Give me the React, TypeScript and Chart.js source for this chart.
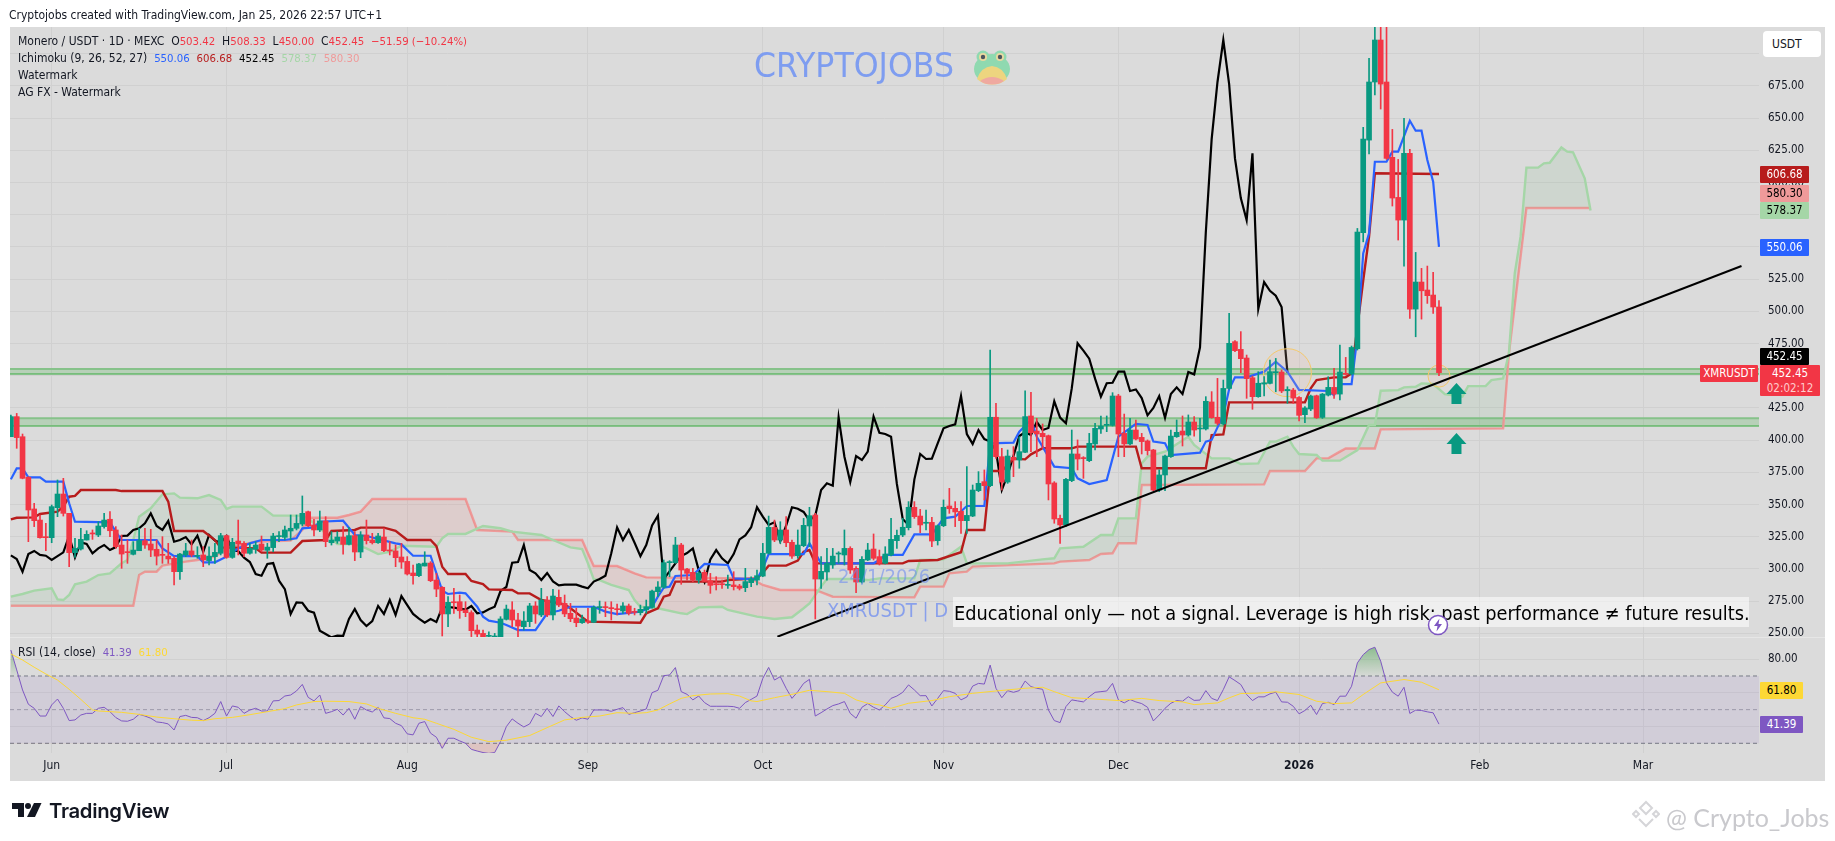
import React, { useEffect, useRef } from 'react';
import { Chart, registerables } from 'chart.js';

Chart.register(...registerables);

const UI_FONT = '"DejaVu Sans Condensed", "DejaVu Sans", sans-serif';
const UP = '#089981';
const DOWN = '#f23645';

// days are counted from 1 Jun 2025, the first candle is 25 May
const firstDay = -7;
const axisMinDay = -7.15;
const axisMaxDay = 292.9;

const monthDays = [0, 30, 61, 92, 122, 153, 183, 214, 245, 273];
const monthLabels = ['Jun', 'Jul', 'Aug', 'Sep', 'Oct', 'Nov', 'Dec', '2026', 'Feb', 'Mar'];
const priceTicks = [250, 275, 300, 325, 350, 375, 400, 425, 450, 475, 500, 525, 550, 575, 600, 625, 650, 675, 700];
const rsiTicks = [40, 60, 80];

const opens = [
  402.7, 418.3, 402.7, 371.2, 346.6, 338, 325, 324.3, 347.6, 358.2,
  343.2, 312.7, 315.5, 322.5, 328, 326.4, 332.9, 338.6, 330.3, 318.6,
  313.2, 311.4, 314.2, 322, 319.4, 315.3, 311.1, 310, 308.3, 297.9,
  310.9, 314, 309.8, 310.9, 306.5, 309.6, 312.2, 325.9, 309, 321.7,
  319.9, 312.2, 315.3, 319.4, 314.5, 316.6, 325.1, 324.6, 329.5, 331.6,
  334.9, 344.5, 334.2, 330.3, 337.3, 320.4, 321.7, 324.8, 319.1, 325.9,
  313.2, 326.4, 322.5, 320.4, 324.8, 314.5, 314, 309.3, 305.9, 296.9,
  294.8, 302.3, 304.6, 291.4, 285.8, 265.1, 274.4, 274.6, 268.2, 266.1,
  252.6, 250, 247.7, 244.9, 244.9, 260.9, 268.2, 260.4, 255.2, 259.1,
  271.3, 264.3, 275.9, 264.3, 278, 273.3, 265.6, 261.9, 258.3, 259.4,
  258.6, 270, 270.5, 269.7, 268.9, 267.4, 271.3, 266.9, 266.1, 268.2,
  270.2, 282.4, 285.8, 304.9, 304.9, 318.6, 300, 297.4, 291.4, 297.4,
  290.9, 288.3, 288.3, 287.3, 287.6, 286.8, 285.5, 289.4, 291.4, 294.5,
  312.2, 332.3, 322.5, 330.3, 320.7, 310.3, 318.1, 333.4, 341.9, 292.2,
  297.7, 303.1, 311.6, 310.9, 316, 300.5, 289.9, 307, 315.5, 309.6,
  304.4, 310.9, 322, 326.4, 332.1, 347.9, 341.1, 335.5, 336.2, 322,
  333.6, 348.9, 347.1, 344.8, 337.5, 341.1, 360.8, 367.8, 364.7, 417.8,
  387.2, 367.5, 386.7, 384.6, 390.6, 418.8, 407.1, 405.3, 403.5, 366.8,
  339.3, 334.2, 368.6, 389.3, 386.2, 384.1, 397.1, 408.7, 411.5, 411.5,
  434.3, 405.3, 397.1, 407.9, 402.2, 399.4, 392.4, 361.3, 373, 387.2,
  402.7, 407.1, 404, 414.1, 408.7, 408.7, 429.7, 417.8, 412.6, 440.2,
  476.5, 470.5, 463.8, 448.5, 433.8, 443.6, 444.1, 452.4, 452.9, 438.4,
  438.9, 433.2, 419.8, 424.2, 434.5, 417.7, 435, 441, 435.8, 451.9,
  451.4, 471, 561.1, 633, 678.1, 710.7, 678.1, 619.6, 588.5, 570.9,
  622.7, 501.8, 522.8, 516.6, 512.7, 503.42,
];
const highs = [
  419.5, 420.8, 404.8, 371.7, 351, 341.9, 335.4, 349.7, 369.1, 370.4,
  343.2, 323.8, 331.6, 329.7, 330.3, 336.7, 343.2, 344.5, 332.9, 326.4,
  322.5, 321.2, 331.6, 331.6, 330.8, 322.5, 325.1, 319.9, 309.6, 312.2,
  319.9, 322.5, 317.3, 317.3, 317.3, 319.9, 327.7, 326.4, 323.8, 338,
  321.2, 319.9, 321.2, 325.6, 319.9, 327.7, 329, 333.4, 341.9, 341.9,
  356.7, 345, 338.6, 345, 340.6, 329, 329, 332.9, 332.3, 329,
  329, 338, 327.7, 327.7, 331.6, 321.2, 318.6, 319.9, 309.6, 303.1,
  304.4, 313.4, 305.7, 296.6, 286.3, 278.5, 285, 279.8, 274.6, 267.6,
  256.5, 252.6, 251.3, 250, 263, 272, 274.6, 265.6, 266.9, 273.3,
  274.6, 285, 278.5, 284.2, 283.7, 279.8, 273.3, 269.5, 264.3, 269.5,
  271.3, 275.1, 274.4, 274.6, 272.8, 273.9, 272.8, 269.5, 272, 275.9,
  283.7, 290.2, 307, 306.5, 324.6, 319.9, 300.5, 300.5, 297.9, 299.2,
  296.6, 294, 291.4, 295.3, 297.9, 288.1, 300.5, 294, 299.2, 319.9,
  341.1, 338, 336.7, 340.6, 322.5, 330.3, 339.3, 347.9, 343.2, 309.6,
  316, 316, 313.4, 330.3, 317.3, 301.8, 309.6, 319.9, 327.2, 314.7,
  317.3, 339.3, 330.3, 339.3, 352.3, 352.3, 346.3, 345.8, 340.1, 334.2,
  353.6, 362.6, 352.3, 352.3, 379.5, 365.2, 375.6, 376.9, 470, 428.6,
  393.7, 392.4, 395, 402.7, 438.4, 437.2, 417, 412.6, 404, 367.8,
  341.9, 370.4, 407.9, 400.2, 387.2, 405.3, 413.1, 418.8, 418.8, 436.9,
  435.6, 420.3, 417, 415.7, 405.3, 400.2, 392.9, 376.9, 388.5, 407.9,
  415.7, 418.8, 419.6, 418.3, 417, 433.8, 437.7, 448, 446.7, 498.5,
  477.3, 484.3, 466.1, 449.8, 453.2, 449.3, 462.2, 463.5, 454.5, 441.5,
  440.2, 433.8, 426, 435, 435, 436.3, 449.3, 455.7, 473.9, 464.3,
  473.1, 564.4, 642.9, 696.4, 735, 735, 740, 641.3, 618, 649.9,
  625.8, 545.8, 533.4, 535.2, 530.3, 508.33,
];
const lows = [
  402.7, 393.7, 370, 321.2, 332.9, 324, 314.2, 320.4, 340.6, 341.1,
  301.8, 309, 314.7, 322.5, 323, 325.1, 331.6, 325.1, 316, 300.5,
  304.4, 310.9, 314.2, 316, 309.6, 303.1, 304.4, 304.4, 287.6, 292,
  309.6, 309.6, 308.3, 301.8, 303.1, 304.4, 310.9, 308.3, 308.3, 310.9,
  309.6, 311.6, 312.2, 313.4, 308.3, 313.4, 321.2, 322.5, 322.5, 330.3,
  333.4, 332.9, 325.6, 329, 317.3, 318.6, 319.9, 311.6, 318.6, 306.5,
  308.8, 319.4, 319.4, 319.9, 313.4, 310.9, 301.8, 300.5, 295.3, 288.3,
  294, 302.3, 290.2, 278.5, 248, 255.2, 265.6, 261.7, 263, 247.5,
  246.2, 244.9, 244.9, 244.9, 244.9, 260.4, 255.2, 247.5, 252.6, 255.2,
  257.8, 263, 263, 260.4, 270.7, 263, 259.1, 255.2, 257.8, 257.8,
  258.3, 265.6, 263, 260.4, 264.3, 265.6, 264.3, 264.3, 264.3, 265.6,
  269.5, 278.5, 285, 294, 304.4, 288.1, 291.4, 290.2, 288.9, 290.2,
  281.1, 283.7, 285, 285, 283.7, 283.7, 282.4, 286.3, 287.6, 294,
  311.6, 321.2, 319.9, 317.3, 308.3, 308.3, 317.3, 317.3, 261.2, 285,
  291.4, 300.5, 304.4, 303.1, 296.6, 281.6, 288.9, 306.5, 307, 303.1,
  303.9, 310.1, 316, 325.1, 330.3, 339.3, 328.2, 330.3, 317.3, 318.6,
  332.9, 343.2, 332.9, 327.7, 327.7, 340.6, 360, 353.6, 363.9, 385.9,
  361.3, 366.5, 371.7, 378.2, 390.3, 391.1, 387.2, 393.7, 353.6, 335.5,
  319.9, 332.9, 367.8, 376.9, 370.4, 383.3, 392.4, 405.3, 406.6, 411,
  387.2, 387.2, 396.3, 400.2, 389.3, 388.5, 360.8, 360, 360.8, 386.7,
  402.2, 395.5, 403.2, 403.2, 398.9, 407.9, 417, 411.8, 411.8, 439.5,
  468.7, 452.4, 432.5, 424, 433.3, 434.3, 443.6, 437.6, 436.9, 428.6,
  428.6, 414.9, 413.6, 422.9, 416.9, 416.9, 434.3, 432.5, 431.2, 450.6,
  450.6, 470, 554, 622.2, 668, 657.1, 618, 581.8, 555.4, 535.2,
  494.6, 480.3, 494, 506.2, 498.4, 450,
];
const closes = [
  418.3, 402, 370.4, 345.8, 337.5, 324.3, 324.3, 348.4, 358.2, 343.2,
  312.7, 316, 323, 326.9, 327.2, 333.4, 338, 329.7, 317.3, 311.6,
  312.7, 314.7, 322, 318.6, 314.7, 310, 310.6, 307.8, 297.9, 311.6,
  314, 310.9, 310.3, 307, 310, 312.9, 325.9, 309, 320.7, 319.4,
  312.2, 316, 318.6, 314.7, 317, 325.6, 325.9, 330.3, 331.6, 335.4,
  343.2, 333.4, 330.3, 337.3, 321.2, 322.5, 324.8, 319.1, 325.9, 313.2,
  326.4, 322, 320.4, 325.6, 314.2, 314, 308.8, 305.4, 296.1, 294.8,
  303.9, 304.6, 290.9, 284.4, 265.1, 274.1, 273.8, 267.6, 266.1, 252.1,
  249.5, 246.9, 248.2, 248, 261.2, 268.9, 260.4, 255.7, 259.6, 271.3,
  265.1, 275.9, 264.3, 279, 272, 265.1, 261.4, 258.3, 261.2, 258.8,
  270.2, 270.5, 270, 269.2, 268.4, 271.3, 265.6, 266.3, 268.7, 270.7,
  282.9, 286, 304.9, 305.4, 318.6, 299.2, 296.6, 291.4, 296.9, 290.4,
  287.3, 287.8, 287.8, 287.8, 286.3, 285, 290.2, 292.2, 294.8, 312.2,
  332.3, 322.5, 330.3, 320.4, 310, 318.6, 333.9, 341.4, 292.2, 298.2,
  304.4, 310, 312.4, 316, 299.2, 289.9, 307.5, 314.7, 308.3, 304.4,
  311.6, 323, 326.1, 332.4, 347.9, 340.6, 334.2, 336.2, 321.7, 333.6,
  347.9, 346.8, 344.3, 337.5, 341.6, 361.3, 366.5, 364.7, 417.8, 387.2,
  367.5, 387.7, 384.6, 391.1, 418.3, 405.8, 404.8, 402.7, 366, 338.8,
  334.2, 369.6, 389.3, 385.4, 385.7, 397.6, 409.2, 411, 412.3, 434.3,
  404.8, 397.1, 407.9, 400.9, 398.9, 391.9, 361.3, 373, 387.7, 403.2,
  406.1, 404, 414.1, 407.9, 409.5, 430.2, 417.5, 413.1, 440.2, 475.2,
  469.5, 463.3, 447.8, 433.8, 444.2, 444.6, 453.2, 453.2, 438.2, 439.4,
  432.7, 419.3, 425, 434.3, 417.4, 435.8, 441, 435.8, 452.9, 451.1,
  472, 561.6, 633.8, 678.1, 710.7, 676.5, 618.8, 588, 570.9, 622.7,
  501.8, 522.8, 516, 512.2, 503.4, 452.45,
];

const tenkanDays = [-7, -6, -5, -4, -2, -1, 2, 3, 4, 10, 11, 12, 18, 19, 21, 25, 26, 28, 30, 32, 34, 36, 40, 42, 43, 45, 46, 50, 52, 54, 59, 60, 62, 65, 67, 68, 70, 71, 73, 74, 75, 77, 78, 80, 83, 85, 87, 89, 93, 95, 97, 101, 103, 104, 105, 106, 107, 110, 112, 116, 117, 121, 122, 123, 129, 130, 132, 141, 142, 143, 146, 148, 151, 153, 155, 157, 160, 161, 165, 166, 168, 169, 172, 175, 176, 178, 181, 183, 186, 188, 189, 191, 192, 197, 198, 199, 201, 202, 203, 205, 208, 210, 212, 214, 219, 220, 221, 223, 224, 225, 226, 227, 229, 230, 231, 233, 234, 235, 236, 237, 238];
const tenkanValues = [369.6, 378.1, 378.1, 371.2, 371.2, 367.8, 367.8, 351, 336.7, 336.2, 329, 322.5, 322.5, 316, 310, 310, 305.2, 305.2, 309.6, 316, 319.9, 322.5, 322.5, 323.8, 331.6, 332.3, 336.7, 337.5, 326.4, 325.6, 319.9, 319.1, 310.3, 310.3, 283.2, 280.6, 281.6, 281.1, 270.7, 263, 259.9, 258.3, 256.5, 252.6, 252.6, 265.6, 267.6, 270.7, 270.7, 266.9, 265, 266.9, 270.7, 278.5, 285.5, 286.3, 294.6, 295.3, 303.9, 303.1, 292.7, 292, 300.5, 311.6, 311.6, 319.9, 304.4, 304.4, 307, 310.9, 310.9, 326.9, 326.9, 339.3, 340.6, 348.9, 348.9, 397.6, 398.1, 406.6, 415.7, 402.7, 379.5, 378.2, 370.4, 366, 369.1, 402.7, 412.6, 411.8, 398.9, 397.6, 388.5, 390.3, 398.9, 400.2, 419.6, 439.5, 448.8, 448.8, 453.2, 461, 453.2, 439, 438.2, 435, 443.6, 443.6, 480.3, 545, 560.6, 616.2, 616.2, 624, 624, 648, 640.3, 640.3, 617.5, 600.7, 550.06];

const kijunDays = [-7, -6, -3, -2, 1, 2, 3, 4, 5, 11, 12, 19, 20, 21, 26, 28, 29, 31, 35, 36, 41, 43, 47, 48, 52, 53, 57, 59, 61, 65, 66, 67, 68, 71, 72, 74, 75, 79, 80, 82, 84, 88, 89, 92, 101, 102, 104, 105, 106, 107, 115, 116, 121, 122, 123, 126, 128, 129, 130, 131, 146, 147, 152, 156, 157, 160, 161, 163, 165, 167, 168, 170, 175, 176, 186, 187, 198, 199, 201, 202, 215, 216, 217, 220, 222, 223, 224, 225, 226, 227, 238];
const kijunValues = [338.5, 339.8, 340.1, 342.7, 344.5, 348.4, 356.1, 356.7, 361.3, 361.3, 360.5, 360.5, 352.3, 329.5, 329.5, 322.5, 316.6, 316.6, 316, 312.7, 312.7, 321.7, 322.5, 329.5, 330.3, 332.1, 332.1, 329.7, 322.5, 322.5, 317.8, 301.8, 296.1, 296.1, 290.7, 288.3, 284.2, 283.7, 281.1, 281.1, 275.9, 272.6, 269.5, 259.1, 258.3, 265.6, 269.5, 278.5, 279.8, 290.2, 290.2, 291.4, 292.7, 297.1, 302.6, 302.6, 306.5, 313.4, 314.7, 304.4, 304.4, 306.2, 307, 313, 330.3, 330.3, 376.1, 376.1, 385.7, 385.1, 389, 393.7, 393.7, 395, 395, 378.2, 378.2, 404, 404.5, 429.4, 429.4, 440.3, 446.7, 448.8, 448.8, 451.9, 488, 524, 558, 607.2, 606.68];

// close shifted back by the Ichimoku displacement, read from -7 to 212
const chikouValues = [
  310.6, 307.8, 297.9, 311.6, 314, 310.9, 310.3, 307, 310, 312.9,
  325.9, 309, 320.7, 319.4, 312.2, 316, 318.6, 314.7, 317, 325.6,
  325.9, 330.3, 331.6, 335.4, 343.2, 333.4, 330.3, 337.3, 321.2, 322.5,
  324.8, 319.1, 325.9, 313.2, 326.4, 322, 320.4, 325.6, 314.2, 314,
  308.8, 305.4, 296.1, 294.8, 303.9, 304.6, 290.9, 284.4, 265.1, 274.1,
  273.8, 267.6, 266.1, 252.1, 249.5, 246.9, 248.2, 248, 261.2, 268.9,
  260.4, 255.7, 259.6, 271.3, 265.1, 275.9, 264.3, 279, 272, 265.1,
  261.4, 258.3, 261.2, 258.8, 270.2, 270.5, 270, 269.2, 268.4, 271.3,
  265.6, 266.3, 268.7, 270.7, 282.9, 286, 304.9, 305.4, 318.6, 299.2,
  296.6, 291.4, 296.9, 290.4, 287.3, 287.8, 287.8, 287.8, 286.3, 285,
  290.2, 292.2, 294.8, 312.2, 332.3, 322.5, 330.3, 320.4, 310, 318.6,
  333.9, 341.4, 292.2, 298.2, 304.4, 310, 312.4, 316, 299.2, 289.9,
  307.5, 314.7, 308.3, 304.4, 311.6, 323, 326.1, 332.4, 347.9, 340.6,
  334.2, 336.2, 321.7, 333.6, 347.9, 346.8, 344.3, 337.5, 341.6, 361.3,
  366.5, 364.7, 417.8, 387.2, 367.5, 387.7, 384.6, 391.1, 418.3, 405.8,
  404.8, 402.7, 366, 338.8, 334.2, 369.6, 389.3, 385.4, 385.7, 397.6,
  409.2, 411, 412.3, 434.3, 404.8, 397.1, 407.9, 400.9, 398.9, 391.9,
  361.3, 373, 387.7, 403.2, 406.1, 404, 414.1, 407.9, 409.5, 430.2,
  417.5, 413.1, 440.2, 475.2, 469.5, 463.3, 447.8, 433.8, 444.2, 444.6,
  453.2, 453.2, 438.2, 439.4, 432.7, 419.3, 425, 434.3, 417.4, 435.8,
  441, 435.8, 452.9, 451.1, 472, 561.6, 633.8, 678.1, 710.7, 676.5,
  618.8, 588, 570.9, 622.7, 501.8, 522.8, 516, 512.2, 503.4, 452.45,
];

const spanADays = [-7, -5, -3, 0, 1, 2, 3, 4, 6, 8, 10, 12, 13, 14, 15, 17, 19, 21, 22, 25, 27, 29, 30, 31, 36, 38, 43, 44, 47, 49, 52, 54, 56, 58, 60, 66, 67, 68, 71, 74, 77, 79, 84, 86, 89, 91, 92, 93, 94, 96, 99, 100, 101, 104, 108, 109, 111, 115, 116, 121, 124, 127, 129, 130, 132, 133, 137, 140, 142, 148, 149, 153, 156, 157, 164, 170, 172, 173, 177, 180, 182, 183, 186, 187, 188, 191, 195, 196, 199, 202, 204, 207, 209, 210, 212, 213, 214, 217, 218, 221, 224, 226, 227, 228, 231, 232, 234, 235, 237, 239, 242, 243, 246, 247, 249, 250, 251, 252, 253, 255, 256, 257, 259, 260, 261, 263, 264];
const spanAValues = [278.5, 280.6, 283.2, 285, 276.4, 275.9, 279.8, 288.1, 290.2, 295.3, 296.6, 304.4, 307, 322.5, 340.6, 347.1, 358, 358.7, 355.4, 354.9, 357.4, 353.6, 346.6, 348.4, 348.4, 341.4, 341.4, 339.3, 327.7, 319.4, 319.4, 316, 311.6, 313.4, 318.1, 317.3, 323.8, 327.2, 327.2, 333.4, 331.6, 329, 326.4, 322.5, 316.8, 315.5, 304.4, 292, 291.4, 287.6, 283.7, 275.9, 270.7, 269.5, 265.6, 265, 270.2, 270.7, 268.2, 263, 261.2, 262.5, 269.5, 273.3, 286.3, 292.2, 292.2, 291.4, 292.7, 292.7, 307, 307.5, 317.3, 304.4, 304.4, 307.5, 308.3, 316, 317.3, 326.4, 326.4, 339.3, 339.3, 382, 387.2, 391.1, 402.7, 396.3, 385.9, 385.9, 381.5, 382, 398.9, 398.9, 402.7, 395, 389.3, 388.5, 384.1, 384.1, 392.3, 411.8, 411.8, 438.4, 438.9, 441, 441.5, 444.1, 443.6, 435.8, 433.8, 442, 442, 446.7, 448, 467.4, 529.5, 558, 611.6, 611.6, 614.9, 615.4, 627.3, 624, 623.5, 603.3, 578.37];

const spanBDays = [-7, 14, 15, 16, 18, 19, 23, 25, 28, 30, 35, 41, 43, 44, 49, 51, 53, 55, 71, 73, 79, 80, 91, 92, 93, 97, 100, 102, 120, 122, 125, 131, 134, 148, 149, 153, 154, 157, 158, 172, 173, 178, 180, 182, 183, 186, 187, 208, 209, 215, 217, 219, 221, 222, 227, 228, 249, 250, 253, 264];
const spanBValues = [271.5, 271.5, 295.3, 297.9, 297.9, 302.6, 305.7, 307, 309.6, 316, 321.2, 322, 330.3, 339.8, 339.8, 341.9, 344.5, 354.3, 354.3, 330.3, 329, 322.5, 322.5, 312.2, 302.3, 302.3, 296.6, 293.5, 292.7, 287.6, 283.7, 283.7, 278.5, 278, 286.3, 286.3, 296.6, 297.9, 301.8, 304.4, 305.7, 307, 311.6, 312.2, 320, 320, 365.2, 365.7, 376.1, 376.1, 385.9, 385.9, 391.1, 393.6, 393.6, 408.4, 409.2, 467.4, 580.3, 580.3];

const rsiValues = [
  85.4, 73.6, 61.7, 53.2, 50.8, 46.2, 46.2, 52.8, 56.3, 50.8,
  43.5, 43.9, 46.8, 47.8, 47.8, 50.8, 51.4, 48.8, 45.3, 43.3,
  43.1, 44.3, 47.2, 46.2, 44.9, 42.7, 42.3, 41.5, 37.9, 45.9,
  46.6, 45.4, 45.2, 43.5, 45.2, 47.8, 54.8, 46.2, 52.2, 51.4,
  47.8, 49.8, 50.8, 49.2, 49.2, 55.2, 55.4, 58.1, 58.7, 61.1,
  65, 57.3, 55.2, 58.7, 47.8, 48.8, 50.2, 46.8, 50.8, 44.3,
  51.8, 49.8, 48.6, 51.4, 45.1, 44.7, 41.9, 40.5, 35.6, 35,
  41.9, 42.9, 36, 33.6, 27, 33, 33, 31.4, 30, 26.4,
  25.4, 24.5, 24, 24.5, 31, 39.9, 44.5, 41.9, 39.7, 41.5,
  47.8, 45.9, 50.8, 45.9, 52.2, 48.8, 45.9, 43.7, 45.1, 44.3,
  49.8, 49.8, 49.8, 49, 50.2, 51.2, 47.2, 48.2, 49.2, 50.4,
  60.1, 61.5, 70.2, 70.6, 75, 60.7, 59.1, 55.8, 58.1, 54.2,
  52, 52, 52, 52, 51.8, 50.8, 54.2, 56.1, 58.1, 68.6,
  75.1, 67.6, 69.6, 62.7, 56.7, 60.7, 65.6, 68, 46.2, 48.2,
  50.4, 52.4, 53.4, 54.8, 47.8, 44.9, 51.4, 53.6, 51.4, 49.8,
  52.8, 56.7, 58.1, 60.3, 64.7, 61.7, 58.3, 58.3, 52.2, 56.7,
  61.3, 60.9, 59.7, 55.8, 57.5, 64, 65.6, 65.2, 76.5, 62.7,
  57.1, 61.3, 60.3, 61.3, 67, 63.7, 62.7, 62.1, 49.8, 43.5,
  42.3, 51.8, 55.8, 55.2, 54.6, 57.7, 60.3, 60.7, 61.1, 65.6,
  55.8, 54, 56, 54.6, 53.6, 51.4, 43.3, 46.8, 50.8, 53.8,
  55.4, 55, 57.7, 55.5, 55.7, 61.3, 56.7, 55.4, 61.9, 69.5,
  67.3, 64.9, 59, 55.4, 57.6, 57.6, 59.4, 60.4, 54.6, 54.4,
  52, 47.5, 49.5, 52.6, 47.1, 53.6, 54.4, 53, 58, 58,
  63.9, 77.8, 82.7, 85.7, 87.1, 78.8, 65.9, 60.4, 58, 63.3,
  47.7, 49.7, 49.5, 48.7, 48.1, 41.39,
];

const rsiMaDays = [-7, -5, -3, -1, 1, 3, 5, 7, 8, 12, 15, 18, 21, 24, 26, 28, 31, 34, 37, 40, 42, 45, 47, 51, 54, 56, 59, 62, 64, 66, 69, 72, 75, 78, 82, 85, 88, 91, 94, 97, 100, 102, 104, 106, 108, 110, 113, 116, 118, 120, 121, 124, 127, 130, 133, 136, 138, 140, 142, 144, 147, 151, 154, 158, 162, 167, 170, 172, 175, 179, 183, 187, 190, 194, 196, 200, 202, 204, 207, 210, 214, 217, 220, 223, 225, 228, 232, 235, 238];
const rsiMaValues = [83.1, 79.5, 75.2, 71.2, 67.6, 62.1, 56.1, 49.8, 49.2, 48.4, 47.2, 45.6, 44.6, 43.7, 43.5, 44.6, 45.4, 47, 48.8, 50.6, 52.8, 54.8, 55, 54.8, 53.4, 50.8, 47.8, 45.2, 44.3, 41.9, 38.3, 33.6, 31, 31.8, 34.6, 39.3, 43.9, 45.4, 46.2, 48.2, 47.8, 48.2, 49.8, 53.4, 56.7, 58.3, 59.3, 59.5, 58.1, 55.2, 54.8, 57.1, 59.1, 61.5, 60.7, 59.7, 55.8, 53.8, 52.8, 50.8, 53.8, 55.4, 57.7, 59.7, 61.1, 62.7, 63.3, 60.7, 57.1, 56.3, 55.4, 56.7, 55.4, 54.6, 53, 54, 57, 59.6, 59.8, 60.6, 59, 55, 53.6, 54, 59, 65.9, 67.9, 66.3, 61.8];

const trendDays = [124.5, 289.9];
const trendPrices = [247.4, 535.2];
const upperZone = [451.4, 455.3];
const lowerZone = [411, 417];
const rsiBands = [30, 50, 70];
const circleDays = [212, 238];
const circlePrices = [452.4, 449.8];
const circleSizes = [24, 11];
const arrowDays = [241, 241];
const arrowPrices = [435.9, 397];

const points = (days: number[], values: number[]) => days.map((d, i) => ({ x: d, y: values[i] }));
const fromFirstDay = (values: number[]) => values.map((v, i) => ({ x: firstDay + i, y: v }));
const acrossPlot = (value: number) => [
  { x: axisMinDay, y: value },
  { x: axisMaxDay, y: value },
];

const line = (data: any[], color: string, width: number, order: number, extra: any = {}) => ({
  type: 'line',
  data,
  borderColor: color,
  borderWidth: width,
  pointRadius: 0,
  tension: 0,
  fill: false,
  order,
  yAxisID: 'y',
  ...extra,
});

const panePlugin = {
  id: 'panes',
  beforeDraw(chart: any) {
    const { ctx } = chart;
    ctx.save();
    ctx.fillStyle = '#dbdbdb';
    ctx.fillRect(10, 27, 1815, 754);
    ctx.fillStyle = '#e6e6e6';
    ctx.fillRect(10, chart.scales.rsi.top, 1815, 1);
    ctx.restore();
  },
  afterDatasetsDraw(chart: any) {
    const { ctx, scales } = chart;
    ctx.save();
    ctx.fillStyle = UP;
    arrowDays.forEach((d, i) => {
      const x = scales.x.getPixelForValue(d);
      const y = scales.y.getPixelForValue(arrowPrices[i]);
      ctx.beginPath();
      ctx.moveTo(x, y - 11);
      ctx.lineTo(x + 10, y);
      ctx.lineTo(x + 5, y);
      ctx.lineTo(x + 5, y + 10);
      ctx.lineTo(x - 5, y + 10);
      ctx.lineTo(x - 5, y);
      ctx.lineTo(x - 10, y);
      ctx.closePath();
      ctx.fill();
    });
    ctx.restore();
  },
};

function Tag(props: { top: number; left: number; width: number; bg: string; fg: string; children: any; height?: number }) {
  return (
    <div
      style={{
        position: 'absolute',
        left: props.left,
        top: props.top,
        width: props.width,
        height: props.height || 17,
        font: '11.5px ' + UI_FONT,
        lineHeight: (props.height || 17) + 'px',
        background: props.bg,
        color: props.fg,
        textAlign: 'center',
        borderRadius: 1,
      }}
    >
      {props.children}
    </div>
  );
}

function Text(props: { left: number; top: number; size?: number; color?: string; children: any; style?: any }) {
  return (
    <div
      style={{
        position: 'absolute',
        left: props.left,
        top: props.top,
        fontFamily: UI_FONT,
        fontSize: props.size || 12,
        lineHeight: '17px',
        color: props.color || '#131722',
        whiteSpace: 'pre',
        ...props.style,
      }}
    >
      {props.children}
    </div>
  );
}

export default function App() {
  const canvasRef = useRef<HTMLCanvasElement | null>(null);

  useEffect(() => {
    if (!canvasRef.current) return;
    const wicks = highs.map((h, i) => ({ x: firstDay + i, y: [lows[i], h] }));
    const bodies = opens.map((o, i) => ({ x: firstDay + i, y: [o, closes[i]] }));
    const candleColors = opens.map((o, i) => (closes[i] >= o ? UP : DOWN));

    const overbought = canvasRef.current.getContext('2d')!.createLinearGradient(0, 645, 0, 676);
    overbought.addColorStop(0, 'rgba(67,160,71,0.55)');
    overbought.addColorStop(1, 'rgba(67,160,71,0.03)');

    const chart = new Chart(canvasRef.current, {
      type: 'bar',
      data: {
        datasets: [
          line(points(trendDays, trendPrices), '#000000', 2, 0),
          { type: 'bar', data: bodies, backgroundColor: candleColors, barThickness: 5, grouped: false, minBarLength: 1, order: 2, yAxisID: 'y' },
          { type: 'bar', data: wicks, backgroundColor: candleColors, barThickness: 1, grouped: false, order: 3, yAxisID: 'y' },
          line(points(circleDays, circlePrices), 'transparent', 0, 4, {
            showLine: false,
            pointRadius: circleSizes,
            pointBorderColor: '#f5c96b',
            pointBorderWidth: 1,
            pointBackgroundColor: 'rgba(240,190,170,0.18)',
          }),
          line(points(tenkanDays, tenkanValues), '#2962ff', 2.2, 5),
          line(points(kijunDays, kijunValues), '#b71c1c', 2.4, 6),
          line(fromFirstDay(chikouValues), '#000000', 2.2, 7),
          line(points(spanADays, spanAValues), '#a5d6a7', 2.4, 8, {
            fill: { target: '+1', above: 'rgba(67,160,71,0.08)', below: 'rgba(244,67,54,0.09)' },
          }),
          line(points(spanBDays, spanBValues), '#ef9a9a', 2.4, 9),
          line(acrossPlot(upperZone[1]), '#86c28a', 2, 10, {
            fill: { target: { value: upperZone[0] }, above: 'rgba(76,175,80,0.25)' },
          }),
          line(acrossPlot(upperZone[0]), '#86c28a', 2, 10),
          line(acrossPlot(lowerZone[1]), '#86c28a', 2, 10, {
            fill: { target: { value: lowerZone[0] }, above: 'rgba(76,175,80,0.25)' },
          }),
          line(acrossPlot(lowerZone[0]), '#86c28a', 2, 10),
          line(fromFirstDay(rsiValues), '#7e57c2', 1, 1, {
            yAxisID: 'rsi',
            fill: { target: { value: rsiBands[2] }, above: overbought, below: 'rgba(0,0,0,0)' },
          }),
          line(fromFirstDay(rsiValues), 'transparent', 0, 13, {
            yAxisID: 'rsi',
            fill: { target: { value: rsiBands[0] }, above: 'rgba(0,0,0,0)', below: 'rgba(244,67,54,0.15)' },
          }),
          line(points(rsiMaDays, rsiMaValues), '#fdd835', 1, 0, { yAxisID: 'rsi' }),
          line(acrossPlot(rsiBands[2]), '#787b86', 1, 14, {
            yAxisID: 'rsi',
            borderDash: [4, 3],
            fill: { target: { value: rsiBands[0] }, above: 'rgba(126,87,194,0.1)' },
          }),
          line(acrossPlot(rsiBands[1]), 'rgba(120,123,134,0.6)', 1, 14, { yAxisID: 'rsi', borderDash: [4, 3] }),
          line(acrossPlot(rsiBands[0]), '#787b86', 1, 14, { yAxisID: 'rsi', borderDash: [4, 3] }),
        ] as any,
      },
      options: {
        responsive: false,
        animation: false,
        layout: { autoPadding: false, padding: { left: 10, top: 27, right: 10, bottom: 60 } },
        plugins: { legend: { display: false }, tooltip: { enabled: false } },
        scales: {
          x: {
            type: 'linear',
            min: axisMinDay,
            max: axisMaxDay,
            bounds: 'data',
            offset: false,
            border: { display: false },
            grid: { color: '#d0d0d0', offset: false, drawTicks: false },
            afterBuildTicks: (scale: any) => {
              scale.ticks = monthDays.map((value) => ({ value }));
            },
            afterFit: (scale: any) => {
              scale.height = 28;
            },
            ticks: {
              autoSkip: false,
              maxRotation: 0,
              padding: 6,
              color: '#131722',
              font: (ctx: any) => ({
                family: UI_FONT,
                size: 12,
                weight: ctx.tick && monthLabels[monthDays.indexOf(ctx.tick.value)] === '2026' ? 'bold' : 'normal',
              }),
              callback: (value: any) => monthLabels[monthDays.indexOf(value)],
            },
          },
          y: {
            type: 'linear',
            position: 'right',
            stack: 'panes',
            stackWeight: 610,
            min: 247.2,
            max: 720.8,
            bounds: 'data',
            border: { display: false },
            grid: { color: '#d0d0d0', drawTicks: false },
            afterBuildTicks: (scale: any) => {
              scale.ticks = priceTicks.map((value) => ({ value }));
            },
            afterFit: (scale: any) => {
              scale.width = 66;
            },
            ticks: {
              autoSkip: false,
              padding: 9,
              color: '#131722',
              font: { family: UI_FONT, size: 11.5 },
              callback: (value: any) => Number(value).toFixed(2),
            },
          },
          rsi: {
            type: 'linear',
            position: 'right',
            stack: 'panes',
            stackWeight: 116,
            min: 24.23,
            max: 93.18,
            bounds: 'data',
            border: { display: false },
            grid: { color: '#d0d0d0', drawTicks: false },
            afterBuildTicks: (scale: any) => {
              scale.ticks = rsiTicks.map((value) => ({ value }));
            },
            afterFit: (scale: any) => {
              scale.width = 66;
            },
            ticks: {
              autoSkip: false,
              padding: 9,
              color: '#131722',
              font: { family: UI_FONT, size: 11.5 },
              callback: (value: any) => Number(value).toFixed(2),
            },
          },
        },
      } as any,
      plugins: [panePlugin],
    });

    return () => {
      chart.destroy();
    };
  }, []);

  const red = { color: DOWN, fontSize: 11.3 };
  const value = (color: string) => ({ color, fontSize: 11.3 });

  return (
    <div style={{ position: 'absolute', left: 0, top: 0, width: 1835, height: 841, overflow: 'hidden', background: '#ffffff' }}>
      <canvas ref={canvasRef} width={1835} height={841} style={{ display: 'block', position: 'absolute', left: 0, top: 0 }} />

      <Text left={9} top={7}>Cryptojobs created with TradingView.com, Jan 25, 2026 22:57 UTC+1</Text>
      <Text left={18} top={33}>
        {'Monero / USDT · 1D · MEXC  O'}<span style={red}>503.42</span>{'  H'}<span style={red}>508.33</span>{'  L'}<span style={red}>450.00</span>{'  C'}<span style={red}>452.45</span>{'  '}<span style={red}>−51.59 (−10.24%)</span>
      </Text>
      <Text left={18} top={50}>
        {'Ichimoku (9, 26, 52, 27)  '}<span style={value('#2962ff')}>550.06</span>{'  '}<span style={value('#b71c1c')}>606.68</span>{'  '}<span style={value('#000')}>452.45</span>{'  '}<span style={value('#a5d6a7')}>578.37</span>{'  '}<span style={value('#ef9a9a')}>580.30</span>
      </Text>
      <Text left={18} top={67}>Watermark</Text>
      <Text left={18} top={84}>AG FX - Watermark</Text>
      <Text left={18} top={644}>
        {'RSI (14, close)  '}<span style={value('#7e57c2')}>41.39</span>{'  '}<span style={value('#fdd835')}>61.80</span>
      </Text>

      <Text left={754} top={48} size={34} color="#7e9df0" style={{ lineHeight: '34px', fontFamily: '"DejaVu Sans", sans-serif', transform: 'scaleX(0.93)', transformOrigin: 'left' }}>CRYPTOJOBS</Text>
      <svg style={{ position: 'absolute', left: 973, top: 48 }} width="38" height="38" viewBox="0 0 38 38">
        <ellipse cx="19" cy="21" rx="18" ry="15" fill="#8fd9b0" />
        <circle cx="10" cy="9" r="6.5" fill="#8fd9b0" />
        <circle cx="27" cy="9" r="6.5" fill="#8fd9b0" />
        <circle cx="10" cy="9" r="4" fill="#e9d9a0" />
        <circle cx="27" cy="9" r="4" fill="#e9d9a0" />
        <circle cx="10" cy="9" r="2.2" fill="#4b5560" />
        <circle cx="27" cy="9" r="2.2" fill="#4b5560" />
        <path d="M4 31 Q8 19 19 18 Q30 19 34 31 Q28 36.5 19 36.5 Q10 36.5 4 31 Z" fill="#edd57f" />
        <path d="M7 33 Q13 29 19 29 Q25 29 31 33 Q26 36.5 19 36.5 Q12 36.5 7 33 Z" fill="#efa9a0" />
      </svg>

      <Text left={838} top={568} size={20} color="rgba(110,140,240,0.6)">24/1/2026</Text>
      <Text left={827} top={602} size={20} color="rgba(110,140,240,0.75)">XMRUSDT | D</Text>

      <div style={{ position: 'absolute', left: 953, top: 597, width: 795, height: 30, font: '19.75px ' + UI_FONT, lineHeight: '33px', background: 'rgba(255,255,255,0.55)', color: '#000', whiteSpace: 'pre', paddingLeft: 1 }}>
        Educational only — not a signal. Leverage is high risk; past performance ≠ future results.
      </div>
      <svg style={{ position: 'absolute', left: 1427, top: 614 }} width="22" height="22" viewBox="0 0 22 22">
        <circle cx="11" cy="11" r="9.5" fill="#ffffff" stroke="#7e57c2" strokeWidth="1.5" />
        <path d="M12.5 4.5 L7 12 L10.5 12 L9.5 17.5 L15 10 L11.5 10 Z" fill="#7e57c2" />
      </svg>

      <div style={{ position: 'absolute', left: 1763, top: 31, width: 58, height: 26, font: '12px ' + UI_FONT, lineHeight: '26px', background: '#fff', borderRadius: 4, color: '#131722', paddingLeft: 9, boxSizing: 'border-box' }}>USDT</div>

      <Tag left={1760} top={166} width={49} bg="#b71c1c" fg="#fff">606.68</Tag>
      <Tag left={1760} top={185} width={49} bg="#ef9a9a" fg="#000">580.30</Tag>
      <Tag left={1760} top={202} width={49} bg="#a5d6a7" fg="#000">578.37</Tag>
      <Tag left={1760} top={239} width={49} bg="#2962ff" fg="#fff">550.06</Tag>
      <Tag left={1760} top={348} width={49} bg="#000000" fg="#fff">452.45</Tag>
      <Tag left={1700} top={365} width={58} bg="#f23645" fg="#fff">XMRUSDT</Tag>
      <Tag left={1760} top={365} width={60} height={31} bg="#f23645" fg="#fff">
        <div style={{ lineHeight: '16px' }}>452.45</div>
        <div style={{ lineHeight: '14px', color: '#fcc' }}>02:02:12</div>
      </Tag>
      <Tag left={1760} top={682} width={43} bg="#fdd835" fg="#000">61.80</Tag>
      <Tag left={1760} top={716} width={43} bg="#7e57c2" fg="#fff">41.39</Tag>

      <svg style={{ position: 'absolute', left: 12, top: 803 }} width="30" height="15" viewBox="0 0 30 15">
        <path d="M0 0 H12 V14 H6 V6 H0 Z" fill="#131722" />
        <circle cx="16" cy="3" r="3" fill="#131722" />
        <path d="M22 0 H29.5 L23 14 H15 Z" fill="#131722" />
      </svg>
      <Text left={49} top={800} size={20.3} color="#131722" style={{ lineHeight: '22px', fontFamily: 'Inter, sans-serif', fontWeight: 600, letterSpacing: '-0.3px' }}>TradingView</Text>

      <svg style={{ position: 'absolute', left: 1632, top: 799 }} width="28" height="30" viewBox="0 0 28 30" fill="none" stroke="#d5d5d8" strokeWidth="2">
        <path d="M14 3 L20 9 L14 15 L8 9 Z" />
        <path d="M1 15 L4 12 L7 15 L4 18 Z" />
        <path d="M27 15 L24 12 L21 15 L24 18 Z" />
        <path d="M7 20 L14 27 L21 20" />
      </svg>
      <Text left={1666} top={803} size={25} color="#c9c9cd" style={{ lineHeight: '28px', fontFamily: 'Lato, sans-serif' }}>@ Crypto_Jobs</Text>
    </div>
  );
}
